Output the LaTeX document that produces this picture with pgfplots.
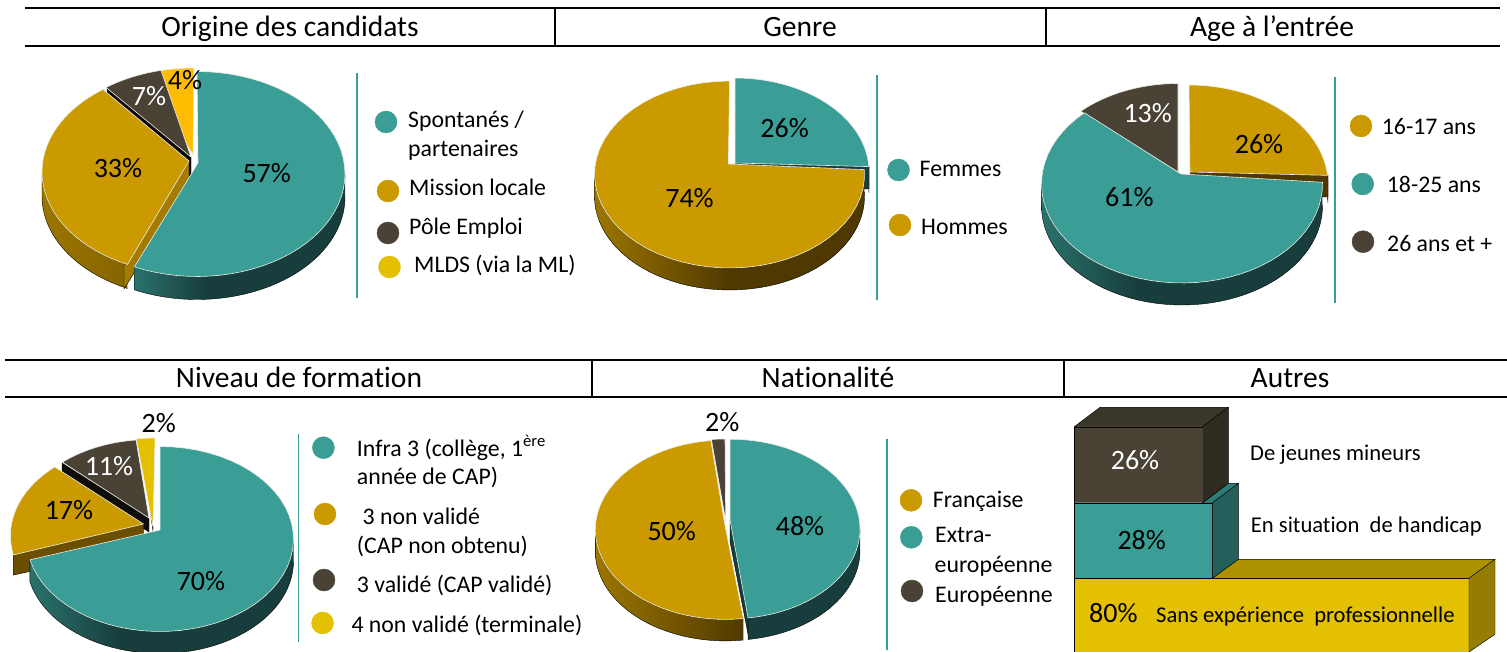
\documentclass[border=0pt]{standalone}
\usepackage{pgfplots}
\pgfplotsset{compat=1.18}
\usepackage{fontspec}
\setmainfont{Carlito}[Ligatures=NoCommon]
\definecolor{teal1}{HTML}{3A9D96}
\definecolor{gold1}{HTML}{CA9A00}
\definecolor{dark1}{HTML}{4A4335}
\definecolor{yell1}{HTML}{E3C000}
\definecolor{oran1}{HTML}{FFBC00}
\definecolor{tsA}{HTML}{2A726C}
\definecolor{tsB}{HTML}{173E3D}
\definecolor{gsA}{HTML}{9C7600}
\definecolor{gsB}{HTML}{503900}
\definecolor{rim}{HTML}{EDEDE6}
\pgfdeclarehorizontalshading{tealside}{100bp}{color(0bp)=(tsA);color(25bp)=(tsA);color(42bp)=(tsB);color(100bp)=(tsB)}
\pgfdeclarehorizontalshading{goldside}{100bp}{color(0bp)=(gsA);color(25bp)=(gsA);color(50bp)=(gsB);color(100bp)=(gsB)}
% ---- outline helpers: the polygon is built as a plain coordinate list
\newcommand{\appendarc}[7]{% cx cy rx ry t1 t2 shift
  \pgfplotsforeachungrouped \k in {0,...,48}{%
    \pgfmathsetmacro\wt{#5+(#6-#5)*\k/48}%
    \pgfmathsetmacro\px{#1+#3*sin(\wt)}%
    \pgfmathsetmacro\py{#2-#4*cos(\wt)+#7}%
    \xdef\coords{\coords (\px,\py)}%
  }%
}
\newcommand{\pieTop}[9]{% vx vy cx cy rx ry t1 t2 opts
  \xdef\coords{(#1,#2)}%
  \appendarc{#3}{#4}{#5}{#6}{#7}{#8}{0}%
  \xdef\coords{\coords (#1,#2)}%
  \edef\doplot{\noexpand\addplot[draw=rim,line width=0.6pt,line join=round,\unexpanded{#9}] coordinates {\coords};}\doplot
}
\newcommand{\pieSide}[8]{% cx cy rx ry depth t1 t2 opts
  \xdef\coords{}%
  \appendarc{#1}{#2}{#3}{#4}{#6}{#7}{0}%
  \appendarc{#1}{#2}{#3}{#4}{#7}{#6}{#5}%
  \edef\doplot{\noexpand\addplot[\unexpanded{#8}] coordinates {\coords};}\doplot
}
\newcommand{\cutFace}[6]{% x1 y1 x2 y2 depth colour
  \pgfmathsetmacro\ya{#2+#5}\pgfmathsetmacro\yb{#4+#5}%
  \edef\doplot{\noexpand\addplot[fill=#6] coordinates {(#1,#2)(#3,#4)(#3,\yb)(#1,\ya)(#1,#2)};}\doplot
}
\newcommand{\legdot}[3]{\addplot[only marks,mark=*,mark size=11,mark options={fill=#3,draw=#3}] coordinates {(#1,#2)};}
\newcommand{\ttl}[3]{\node[inner sep=0pt,anchor=base,yshift=-8.5pt,font=\fontsize{29.5}{34}\selectfont] at (axis cs:#1,#2) {#3};}
\newcommand{\pct}[4]{\node[inner sep=0pt,anchor=base,yshift=-9pt,text=#3,font=\fontsize{28}{32}\selectfont] at (axis cs:#1,#2) {#4};}
\newcommand{\leg}[3]{\node[inner sep=0pt,anchor=base west,yshift=-7pt,font=\fontsize{23.8}{28}\selectfont] at (axis cs:#1,#2) {#3};}
\newcommand{\legb}[3]{\node[inner sep=0pt,anchor=base west,yshift=-7pt,font=\fontsize{22.6}{27}\selectfont] at (axis cs:#1,#2) {#3};}
\newcommand{\hr}[3]{\addplot[black,line width=2pt] coordinates {(#1,#3)(#2,#3)};}
\newcommand{\vr}[3]{\addplot[black,line width=2pt] coordinates {(#1,#2)(#1,#3)};}
\newcommand{\sep}[3]{\addplot[teal1,line width=1.8pt] coordinates {(#1,#2)(#1,#3)};}
\begin{document}
\begin{tikzpicture}
\path[use as bounding box] (0,0) rectangle (1507pt,652pt);
\begin{axis}[
  at={(0,0)},anchor=south west,
  scale only axis,width=1507pt,height=652pt,
  xmin=0,xmax=1507,ymin=0,ymax=652,y dir=reverse,
  hide axis,clip=true]
% table rules
\hr{25}{1500}{8}\hr{25}{1500}{46}\vr{555}{8}{46}\vr{1046}{8}{46}
\hr{5}{1507}{360}\hr{5}{1507}{397}\vr{592}{360}{397}\vr{1064}{360}{397}
% separators
\sep{357}{73}{298}\sep{877}{75}{300}\sep{1335}{77}{303}\sep{298.5}{434}{642}\sep{887}{439}{650}
% ---------- Origine des candidats: 57 33 7 4
\pieTop{193}{155}{194}{168}{148}{100}{341}{360}{fill=oran1}
\cutFace{107}{87}{191}{157}{24}{black!85!dark1}
\pieTop{191}{157}{193}{170}{148}{102}{324}{347.5}{fill=dark1}
\pieSide{190}{172}{148}{102}{24}{205}{270}{left color=gsA,right color=gsA!70!gsB}
\cutFace{124}{265}{189}{161}{24}{gold1!80!black}
\pieTop{189}{161}{190}{172}{148}{102}{205}{324}{fill=gold1}
\pieSide{197}{174}{148}{102.5}{23}{90}{205}{shade,shading=tealside}
\pieTop{198}{163}{197}{174}{148}{102.5}{0}{205}{fill=teal1}
% ---------- Genre: 26 74
\pieSide{735}{171.5}{134}{93.5}{23}{87}{89}{fill=tsB}
\cutFace{735}{163}{869}{166}{23}{tsB}
\pieTop{735}{163}{735}{171.5}{134}{93.5}{0}{87}{fill=teal1}
\pieSide{729.5}{174.5}{135}{93.5}{22}{87}{270}{shade,shading=goldside}
\pieTop{728.4}{164}{729.5}{174.5}{135}{93.5}{87}{360}{fill=gold1}
% ---------- Age: 26 61 13
\cutFace{1085}{109}{1178}{172}{22}{black!85!dark1}
\pieTop{1178}{172}{1178}{182.5}{140}{99}{316}{360}{fill=dark1}
\pieSide{1189}{184}{139}{99}{22}{85}{88}{fill=gsB}
\cutFace{1190}{172}{1328}{175}{22}{gsB}
\pieTop{1190}{172}{1189}{184}{139}{99}{0}{85}{fill=gold1}
\pieSide{1182}{184}{140.5}{99}{22}{89}{270}{shade,shading=tealside}
\pieTop{1181}{174}{1182}{184}{140.5}{99}{89}{316}{fill=teal1}
% ---------- Niveau: 70 17 11 2
\cutFace{140.5}{438}{153}{527}{4}{gsB}
\pieTop{153}{527}{155}{530}{133.5}{92}{352}{360}{fill=yell1}
\cutFace{62}{463}{149}{518}{14}{black!80!dark1}
\pieTop{149}{518}{150}{532}{133.5}{92.5}{319}{354}{fill=dark1}
\cutFace{13.4}{552}{143.5}{524}{23}{gsA!35!gsB}
\pieTop{143.5}{524}{144}{535.7}{133.5}{92.5}{258}{318}{fill=gold1}
\pieSide{160}{539}{133.5}{92.5}{22}{90}{257}{shade,shading=tealside}
\pieTop{160}{530}{160}{539}{133.5}{92.5}{0}{257}{fill=teal1}
% ---------- Nationalite: 48 50 2
\pieTop{725.7}{521}{725}{529}{130}{90}{354}{360}{fill=dark1}
\pieSide{725.3}{529.7}{130}{89.7}{21.5}{172}{270}{left color=gsA,right color=gsB}
\pieTop{724.3}{521.7}{725.3}{529.7}{130}{89.7}{172}{353.6}{fill=gold1}
\cutFace{730}{520}{749}{617.7}{21.5}{tsB}
\pieSide{730}{529}{130}{89.8}{21.5}{90}{172}{fill=tsB}
\pieTop{730}{520}{730}{529}{130}{89.8}{0}{172}{fill=teal1}
% ---------- Autres: 26 28 80
\addplot[fill=yell1] coordinates {(1074.3,578.3)(1469,578.3)(1469,660)(1074.3,660)(1074.3,578.3)};
\addplot[fill=yell1!76!black] coordinates {(1212.3,578.3)(1238.3,559.3)(1495,559.3)(1469,578.3)(1212.3,578.3)};
\addplot[fill=yell1!65!black] coordinates {(1469,578.3)(1495,559.3)(1495,634.3)(1469,652)(1469,578.3)};
\addplot[fill=teal1] coordinates {(1074.3,502.7)(1212.3,502.7)(1212.3,578.3)(1074.3,578.3)(1074.3,502.7)};
\addplot[fill=teal1!62!black] coordinates {(1212.3,502.7)(1238.3,483.3)(1238.3,559.3)(1212.3,578.3)(1212.3,502.7)};
\addplot[fill=teal1!80!black] coordinates {(1202.7,502.7)(1212.3,502.7)(1238.3,483.3)(1228.3,483.3)(1202.7,502.7)};
\addplot[fill=dark1] coordinates {(1074.3,426.7)(1202.7,426.7)(1202.7,502.7)(1074.3,502.7)(1074.3,426.7)};
\addplot[fill=dark1!80!black] coordinates {(1074.3,426.7)(1100,407.3)(1228.3,407.3)(1202.7,426.7)(1074.3,426.7)};
\addplot[fill=dark1!65!black] coordinates {(1202.7,426.7)(1228.3,407.3)(1228.3,483.3)(1202.7,502.7)(1202.7,426.7)};
% legend dots
\legdot{386}{122}{teal1}\legdot{388}{191}{gold1}\legdot{388}{233}{dark1}\legdot{389.5}{267}{yell1}
\legdot{898.5}{170}{teal1}\legdot{900}{225}{gold1}
\legdot{1361}{126}{gold1}\legdot{1362.7}{184}{teal1}\legdot{1363}{241.7}{dark1}
\legdot{323.4}{447.7}{teal1}\legdot{325}{514}{gold1}\legdot{324}{580}{dark1}\legdot{322.6}{623}{yell1}
\legdot{911}{500.3}{gold1}\legdot{911.3}{537.3}{teal1}\legdot{912}{591}{dark1}
% titles
\ttl{290}{28}{Origine des candidats}\ttl{800}{28}{Genre}\ttl{1272}{28}{Age à l’entrée}
\ttl{299}{379}{Niveau de formation}\ttl{828}{379}{Nationalité}\ttl{1290}{379}{Autres}
% percentages
\pct{266.7}{173.3}{black}{57\%}\pct{118}{168.3}{black}{33\%}\pct{149}{96.7}{white}{7\%}\pct{185}{81}{black}{4\%}
\pct{784.6}{129}{black}{26\%}\pct{689.5}{199}{black}{74\%}
\pct{1259}{144.3}{black}{26\%}\pct{1129.3}{197.3}{black}{61\%}\pct{1147.7}{114}{white}{13\%}
\pct{201}{581.7}{black}{70\%}\pct{69}{510}{black}{17\%}\pct{109}{466.7}{white}{11\%}\pct{158.8}{423}{black}{2\%}
\pct{800}{526}{black}{48\%}\pct{671.7}{531.7}{black}{50\%}\pct{722.3}{422.7}{black}{2\%}
\pct{1135}{460}{white}{26\%}\pct{1141.7}{540.7}{black}{28\%}\pct{1113.3}{613.3}{black}{80\%}
% legends
\leg{408}{121}{Spontanés /}\leg{408}{150}{partenaires}\leg{409}{189}{Mission locale}\leg{409}{228}{Pôle Emploi}\leg{414}{266}{MLDS (via la ML)}
\leg{919.5}{170}{Femmes}\leg{921}{228}{Hommes}
\leg{1381.7}{128}{16-17 ans}\leg{1386.7}{186}{18-25 ans}\leg{1387}{245}{26 ans et +}
\leg{356.7}{449}{Infra 3 (collège, 1\textsuperscript{ère}}\leg{356.7}{477.7}{année de CAP)}\leg{362.4}{517.7}{3 non validé}\leg{356.7}{546.7}{(CAP non obtenu)}\leg{356.7}{585}{3 validé (CAP validé)}\leg{351.3}{625}{4 non validé (terminale)}
\leg{932.7}{500.7}{Française}\leg{935}{535.7}{Extra-}\leg{934.5}{565}{européenne}\leg{935}{595}{Européenne}
\legb{1250}{453.3}{De jeunes mineurs}\legb{1250.7}{525}{En situation\ \ de handicap}\legb{1156}{615}{Sans expérience\ \ professionnelle}
\end{axis}
\end{tikzpicture}
\end{document}
